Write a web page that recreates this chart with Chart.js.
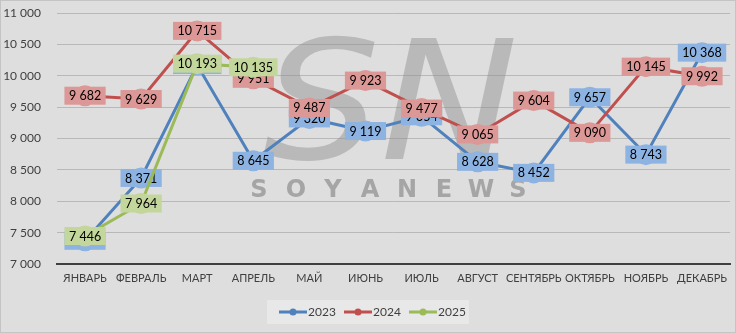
<!DOCTYPE html>
<html>
<head>
<meta charset="utf-8">
<script src="https://cdn.jsdelivr.net/npm/chart.js@4"></script>
<style>
  html, body { margin: 0; padding: 0; background: #dedede; }
  #wrap { position: relative; width: 736px; height: 333px; box-sizing: border-box; border: 1px solid #c4c4c4; }
</style>
</head>
<body>
<div id="wrap"><canvas id="chart" width="734" height="331"></canvas></div>
<script>
// ── Data ──
const MONTHS = ['ЯНВАРЬ', 'ФЕВРАЛЬ', 'МАРТ', 'АПРЕЛЬ', 'МАЙ', 'ИЮНЬ', 'ИЮЛЬ', 'АВГУСТ', 'СЕНТЯБРЬ', 'ОКТЯБРЬ', 'НОЯБРЬ', 'ДЕКАБРЬ'];
const Y2023 = [7370, 8371, 10170, 8645, 9320, 9119, 9354, 8628, 8452, 9657, 8743, 10368];
const Y2024 = [9682, 9629, 10715, 9951, 9487, 9923, 9477, 9065, 9604, 9090, 10145, 9992];
const Y2025 = [7446, 7964, 10193, 10135, null, null, null, null, null, null, null, null];
const Y_MIN = 7000, Y_MAX = 11000, Y_STEP = 500;

const SERIES = [
  { label: '2023', data: Y2023, line: '#4f81bd', fill: '#8db3e2', order: 3 },
  { label: '2024', data: Y2024, line: '#c0504d', fill: '#dc9896', order: 2 },
  { label: '2025', data: Y2025, line: '#9bbb59', fill: '#c3d69b', order: 1 },
];

const FONT = 'Lato, "Open Sans", sans-serif';
const fmt = v => String(v).replace(/\B(?=(\d{3})+(?!\d))/g, ' ');

// ── Watermark (behind the series) ──
const watermark = {
  id: 'watermark',
  beforeDatasetsDraw(chart) {
    const c = chart.ctx;
    c.save();
    c.fillStyle = 'rgba(140,140,140,0.45)';
    c.font = 'italic 165px "DejaVu Sans"';
    c.textBaseline = 'alphabetic';
    c.translate(262, 158);
    c.scale(1.12, 1);
    c.fillText('SN', 0, 0);
    c.restore();
    c.save();
    c.fillStyle = 'rgba(150,150,150,0.8)';
    c.font = 'bold 24px "DejaVu Sans"';
    c.textAlign = 'center';
    c.textBaseline = 'middle';
    'SOYANEWS'.split('').forEach((ch, i) => c.fillText(ch, 258 + i * 37, 190));
    c.restore();
  },
};

// ── Value boxes, drawn right after each series so later series cover them ──
const valueBoxes = {
  id: 'valueBoxes',
  afterDatasetDraw(chart, args) {
    const s = SERIES[args.index];
    const c = chart.ctx;
    c.save();
    c.font = '12.5px ' + FONT;
    c.textAlign = 'center';
    c.textBaseline = 'middle';
    args.meta.data.forEach((pt, i) => {
      const v = s.data[i];
      if (v == null) return;
      const txt = fmt(v);
      const w = c.measureText(txt).width + 9;
      const h = 18;
      c.fillStyle = s.fill;
      c.fillRect(pt.x - w / 2, pt.y - h / 2, w, h);
      c.fillStyle = '#000';
      c.fillText(txt, pt.x, pt.y + 0.5);
    });
    c.restore();
  },
};

// ── Legend ──
const legendBox = {
  id: 'legendBox',
  afterDraw(chart) {
    const c = chart.ctx;
    c.save();
    c.fillStyle = '#e8e8e8';
    c.fillRect(266, 299, 202, 24);
    c.font = '12px ' + FONT;
    c.textBaseline = 'middle';
    SERIES.forEach((s, i) => {
      const x = 278 + i * 65, y = 311;
      c.strokeStyle = s.line;
      c.lineWidth = 3;
      c.beginPath(); c.moveTo(x, y); c.lineTo(x + 28, y); c.stroke();
      c.fillStyle = s.line;
      c.beginPath(); c.arc(x + 14, y, 3.5, 0, Math.PI * 2); c.fill();
      c.fillStyle = '#404040';
      c.fillText(s.label, x + 29, y);
    });
    c.restore();
  },
};

new Chart(document.getElementById('chart'), {
  type: 'line',
  data: {
    labels: MONTHS,
    datasets: SERIES.map(s => ({
      label: s.label,
      data: s.data,
      order: s.order,
      borderColor: s.line,
      borderWidth: 3,
      backgroundColor: s.fill,
      pointBackgroundColor: s.fill,
      pointBorderColor: s.fill,
      pointRadius: 9,
      pointHoverRadius: 9,
      tension: 0,
      spanGaps: false,
    })),
  },
  options: {
    responsive: false,
    animation: false,
    layout: { autoPadding: false, padding: { top: 12, right: 1, left: 0, bottom: 0 } },
    plugins: { legend: { display: false }, tooltip: { enabled: false } },
    scales: {
      x: {
        offset: true,
        grid: { display: false, drawTicks: false },
        border: { color: '#404040', width: 2 },
        ticks: { color: '#404040', font: { family: FONT, size: 11 }, padding: 8, maxRotation: 0, autoSkip: false },
        afterFit: s => { s.height = 68; },
      },
      y: {
        min: Y_MIN, max: Y_MAX,
        grid: { color: '#b8b8b8', drawTicks: false },
        border: { display: false },
        ticks: { stepSize: Y_STEP, color: '#404040', font: { family: FONT, size: 12 }, padding: 16, callback: v => fmt(v) },
        // fixed axis width, and no extra room for half tick labels at the ends
        afterFit: s => { s.width = 56; s.paddingTop = 0; s.paddingBottom = 0; },
      },
    },
  },
  plugins: [watermark, valueBoxes, legendBox],
});
</script>
</body>
</html>
